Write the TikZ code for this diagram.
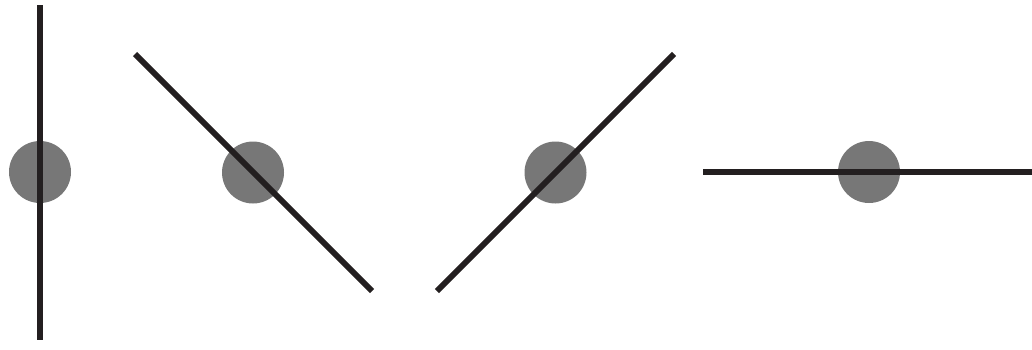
\documentclass[tikz,border=0pt]{standalone}
\definecolor{dotgray}{HTML}{777777}
\definecolor{linedark}{HTML}{231F20}
\tikzset{
  dot/.style={circle,fill=dotgray,draw=none,minimum size=62pt,inner sep=0pt},
  bar/.style={draw=linedark,line width=5.8pt}
}
\begin{document}
\begin{tikzpicture}[x=1pt,y=-1pt]
\useasboundingbox (0,0) rectangle (1032,349);
\node[dot] (c1) at (40,172) {};
\node[dot] (c2) at (253,172.5) {};
\node[dot] (c3) at (555.5,172.5) {};
\node[dot] (c4) at (869,172) {};
\coordinate (a1) at (40,5);
\coordinate (b1) at (40,340);
\coordinate (a2) at (135,54);
\coordinate (b2) at (372,291);
\coordinate (a3) at (437,291);
\coordinate (b3) at (674,54);
\coordinate (a4) at (703,172);
\coordinate (b4) at (1032,172);
\draw[bar] (a1) -- (b1);
\draw[bar] (a2) -- (b2);
\draw[bar] (a3) -- (b3);
\draw[bar] (a4) -- (b4);
\end{tikzpicture}
\end{document}
